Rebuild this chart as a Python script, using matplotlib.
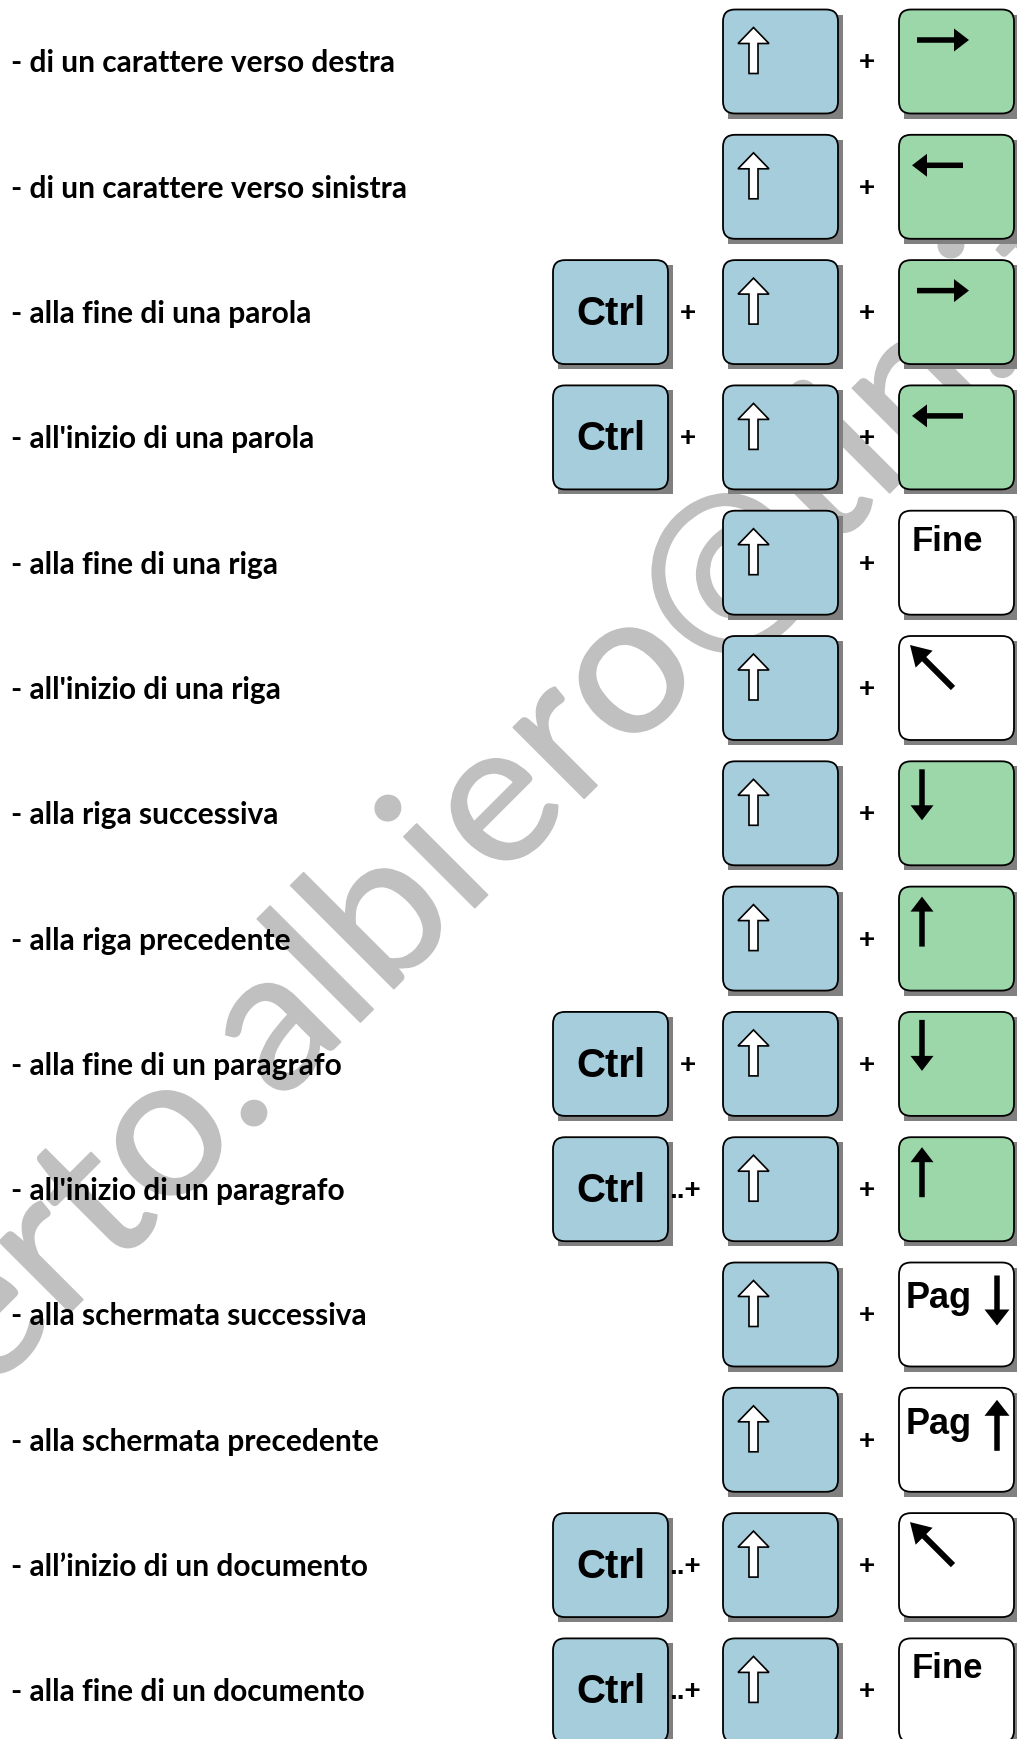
import matplotlib
matplotlib.use('Agg')
import numpy as np
import matplotlib.pyplot as plt
from matplotlib.patches import FancyBboxPatch, Rectangle, Polygon, PathPatch
from matplotlib.textpath import TextPath
from matplotlib.font_manager import FontProperties
from matplotlib.transforms import Affine2D

# ---------------- data ----------------
labels = [
    "- di un carattere verso destra",
    "- di un carattere verso sinistra",
    "- alla fine di una parola",
    "- all'inizio di una parola",
    "- alla fine di una riga",
    "- all'inizio di una riga",
    "- alla riga successiva",
    "- alla riga precedente",
    "- alla fine di un paragrafo",
    "- all'inizio di un paragrafo",
    "- alla schermata successiva",
    "- alla schermata precedente",
    "- all\u2019inizio di un documento",
    "- alla fine di un documento",
]
modifier = ["", "", "Ctrl", "Ctrl", "", "", "", "", "Ctrl", "Ctrl", "", "", "Ctrl", "Ctrl"]
joiner = ["", "", "+", "+", "", "", "", "", "+", "..+", "", "", "..+", "..+"]
target = ["right", "left", "right", "left", "fine", "home", "down", "up",
          "down", "up", "pgdn", "pgup", "home", "fine"]
watermark = "alberto.albiero@tin.it"

# ---------------- style ----------------
W, H = 1017, 1740
BLUE = "#A6CDDC"
GREEN = "#9CD7AA"
WHITE = "#FFFFFF"
SHADOW = "#808080"
WM = "#C0C0C0"

fig = plt.figure(figsize=(W / 100, H / 100), dpi=100)
ax = fig.add_axes([0, 0, 1, 1])
ax.set_xlim(0, W)
ax.set_ylim(H, 0)
ax.axis("off")

# ---------------- watermark ----------------
wm_prop = FontProperties(family="Lato", weight="normal")
em = 198


def tp(s):
    return TextPath((0, 0), s, size=em, prop=wm_prop)


full = tp(watermark)
dext = tp(".").get_extents()
px = tp("alberto.").get_extents().x1 - dext.width / 2
py = (dext.y0 + dext.y1) / 2
o_cx = tp("alberto.albiero").get_extents().x1 - tp("o").get_extents().width / 2
sx = 573.0 / (o_cx - px)
tr = (Affine2D().translate(-px, -py).scale(sx, -1).rotate_deg(-45)
      .translate(254, 1114))
ax.add_patch(PathPatch(full.transformed(tr), fc=WM, ec=WM, lw=1.2,
                       joinstyle="round", capstyle="round", zorder=0))

# ---------------- helpers ----------------
KW, KH = 115, 104
R = 12
X_CTRL, X_SHIFT, X_TGT = 553, 723, 899
X_PLUS1, X_PLUS2 = 688, 867


def key(x, y, fc):
    ax.add_patch(Rectangle((x + 5, y + 5), KW, KH, fc=SHADOW, ec="none", zorder=2))
    ax.add_patch(FancyBboxPatch((x + R, y + R), KW - 2 * R, KH - 2 * R,
                                boxstyle=f"round,pad={R}", fc=fc, ec="black",
                                lw=1.3, zorder=3))


def solid_arrow(x0, y0, x1, y1, shaft=5.5, hl=15, hw=23):
    d = np.array([x1 - x0, y1 - y0], float)
    d /= np.hypot(*d)
    n = np.array([-d[1], d[0]])
    tail = np.array([x0, y0], float)
    tip = np.array([x1, y1], float)
    base = tip - d * hl
    pts = [tail + n * shaft / 2, base + n * shaft / 2, base + n * hw / 2, tip,
           base - n * hw / 2, base - n * shaft / 2, tail - n * shaft / 2]
    ax.add_patch(Polygon(pts, closed=True, fc="black", ec="none", zorder=5))


def shift_glyph(x, y):
    cx = x + 30.5
    pts = [(cx, y + 18), (cx + 15.5, y + 34), (cx + 4.5, y + 34), (cx + 4.5, y + 64),
           (cx - 4.5, y + 64), (cx - 4.5, y + 34), (cx - 15.5, y + 34)]
    ax.add_patch(Polygon(pts, closed=True, fc="white", ec="black", lw=1.2, zorder=5))


key_font = dict(family="Liberation Sans", weight="bold", color="black", zorder=6)
label_font = dict(family="Lato", weight="bold", color="black", zorder=6)

for i, lab in enumerate(labels):
    top = 10.5 + 125.3 * i
    ax.text(11, top + 62, lab, fontsize=21.5, ha="left", va="baseline", **label_font)

    if modifier[i]:
        key(X_CTRL, top, BLUE)
        ax.text(X_CTRL + KW / 2, top + KH / 2 + 1, modifier[i], fontsize=29,
                ha="center", va="center", **key_font)
        ax.text(X_PLUS1 - (3 if joiner[i] == "..+" else 0), top + 53, joiner[i],
                fontsize=20, ha="center", va="center", **key_font)

    key(X_SHIFT, top, BLUE)
    shift_glyph(X_SHIFT, top)
    ax.text(X_PLUS2, top + 53, "+", fontsize=20, ha="center", va="center", **key_font)

    t = target[i]
    fc = GREEN if t in ("right", "left", "up", "down") else WHITE
    key(X_TGT, top, fc)
    x, y = X_TGT, top
    if t == "right":
        solid_arrow(x + 18, y + 30.5, x + 70, y + 30.5)
    elif t == "left":
        solid_arrow(x + 64, y + 30.5, x + 13, y + 30.5)
    elif t == "down":
        solid_arrow(x + 23, y + 8, x + 23, y + 59)
    elif t == "up":
        solid_arrow(x + 23, y + 60, x + 23, y + 10)
    elif t == "home":
        solid_arrow(x + 54, y + 52, x + 11, y + 9, shaft=6, hl=20, hw=24)
    elif t == "fine":
        ax.text(x + 13, y + 39, "Fine", fontsize=25, ha="left", va="baseline", **key_font)
    elif t == "pgdn":
        ax.text(x + 7, y + 45, "Pag", fontsize=26, ha="left", va="baseline", **key_font)
        solid_arrow(x + 98, y + 13, x + 98, y + 63, shaft=5.5, hl=16, hw=25)
    elif t == "pgup":
        ax.text(x + 7, y + 45, "Pag", fontsize=26, ha="left", va="baseline", **key_font)
        solid_arrow(x + 98, y + 63, x + 98, y + 12, shaft=5.5, hl=16, hw=25)

fig.savefig("out.png", dpi=100, facecolor="white")
